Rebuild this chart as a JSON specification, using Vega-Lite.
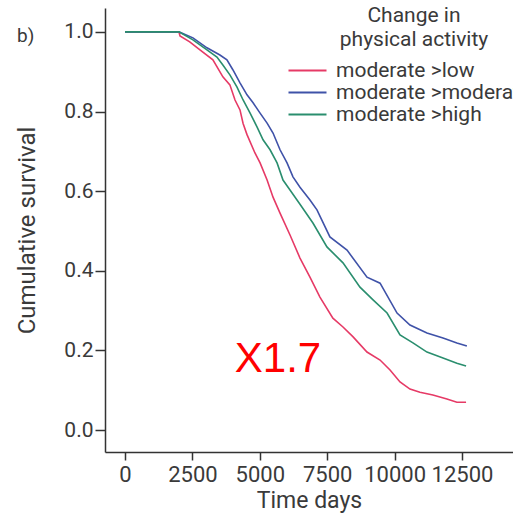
{
  "$schema": "https://vega.github.io/schema/vega-lite/v6.json",
  "autosize": {"type": "none"},
  "padding": {"left": 105, "top": 8, "right": 0, "bottom": 70},
  "width": 408,
  "height": 444,
  "background": "white",
  "config": {
    "view": {"stroke": null},
    "font": "Roboto",
    "axis": {
      "grid": false,
      "domainColor": "#333333",
      "domainWidth": 1.5,
      "tickColor": "#333333",
      "tickWidth": 1.5,
      "labelColor": "#3a3a3a",
      "titleColor": "#3a3a3a",
      "titleFontWeight": "normal",
      "labelFont": "Roboto",
      "titleFont": "Roboto"
    }
  },
  "title": {
    "text": "b)",
    "anchor": "start",
    "frame": "group",
    "dx": -88,
    "dy": 45,
    "fontSize": 19,
    "fontWeight": "normal",
    "font": "Roboto",
    "color": "#3a3a3a"
  },
  "datasets": {
    "curves": [
      {"t": 0, "s": 1, "group": "moderate >low"},
      {"t": 2000, "s": 1, "group": "moderate >low"},
      {"t": 2040, "s": 0.99, "group": "moderate >low"},
      {"t": 2400, "s": 0.975, "group": "moderate >low"},
      {"t": 2780, "s": 0.955, "group": "moderate >low"},
      {"t": 3260, "s": 0.93, "group": "moderate >low"},
      {"t": 3630, "s": 0.887, "group": "moderate >low"},
      {"t": 3890, "s": 0.867, "group": "moderate >low"},
      {"t": 4080, "s": 0.829, "group": "moderate >low"},
      {"t": 4265, "s": 0.804, "group": "moderate >low"},
      {"t": 4380, "s": 0.77, "group": "moderate >low"},
      {"t": 4525, "s": 0.742, "group": "moderate >low"},
      {"t": 4820, "s": 0.696, "group": "moderate >low"},
      {"t": 5010, "s": 0.671, "group": "moderate >low"},
      {"t": 5270, "s": 0.628, "group": "moderate >low"},
      {"t": 5490, "s": 0.585, "group": "moderate >low"},
      {"t": 5750, "s": 0.545, "group": "moderate >low"},
      {"t": 6120, "s": 0.49, "group": "moderate >low"},
      {"t": 6490, "s": 0.432, "group": "moderate >low"},
      {"t": 6860, "s": 0.384, "group": "moderate >low"},
      {"t": 7230, "s": 0.334, "group": "moderate >low"},
      {"t": 7710, "s": 0.281, "group": "moderate >low"},
      {"t": 8085, "s": 0.259, "group": "moderate >low"},
      {"t": 8460, "s": 0.234, "group": "moderate >low"},
      {"t": 8975, "s": 0.196, "group": "moderate >low"},
      {"t": 9460, "s": 0.176, "group": "moderate >low"},
      {"t": 9830, "s": 0.151, "group": "moderate >low"},
      {"t": 10200, "s": 0.121, "group": "moderate >low"},
      {"t": 10570, "s": 0.103, "group": "moderate >low"},
      {"t": 10940, "s": 0.095, "group": "moderate >low"},
      {"t": 11420, "s": 0.088, "group": "moderate >low"},
      {"t": 11940, "s": 0.078, "group": "moderate >low"},
      {"t": 12310, "s": 0.07, "group": "moderate >low"},
      {"t": 12650, "s": 0.07, "group": "moderate >low"},

      {"t": 0, "s": 1, "group": "moderate >moderate"},
      {"t": 2000, "s": 1, "group": "moderate >moderate"},
      {"t": 2520, "s": 0.985, "group": "moderate >moderate"},
      {"t": 3040, "s": 0.96, "group": "moderate >moderate"},
      {"t": 3520, "s": 0.942, "group": "moderate >moderate"},
      {"t": 3780, "s": 0.93, "group": "moderate >moderate"},
      {"t": 4000, "s": 0.905, "group": "moderate >moderate"},
      {"t": 4265, "s": 0.872, "group": "moderate >moderate"},
      {"t": 4525, "s": 0.842, "group": "moderate >moderate"},
      {"t": 4750, "s": 0.822, "group": "moderate >moderate"},
      {"t": 5010, "s": 0.796, "group": "moderate >moderate"},
      {"t": 5270, "s": 0.771, "group": "moderate >moderate"},
      {"t": 5490, "s": 0.746, "group": "moderate >moderate"},
      {"t": 5750, "s": 0.704, "group": "moderate >moderate"},
      {"t": 6010, "s": 0.671, "group": "moderate >moderate"},
      {"t": 6230, "s": 0.636, "group": "moderate >moderate"},
      {"t": 6490, "s": 0.61, "group": "moderate >moderate"},
      {"t": 6860, "s": 0.578, "group": "moderate >moderate"},
      {"t": 7120, "s": 0.553, "group": "moderate >moderate"},
      {"t": 7600, "s": 0.485, "group": "moderate >moderate"},
      {"t": 8235, "s": 0.452, "group": "moderate >moderate"},
      {"t": 8975, "s": 0.384, "group": "moderate >moderate"},
      {"t": 9460, "s": 0.369, "group": "moderate >moderate"},
      {"t": 10090, "s": 0.294, "group": "moderate >moderate"},
      {"t": 10570, "s": 0.264, "group": "moderate >moderate"},
      {"t": 11200, "s": 0.244, "group": "moderate >moderate"},
      {"t": 11795, "s": 0.231, "group": "moderate >moderate"},
      {"t": 12310, "s": 0.219, "group": "moderate >moderate"},
      {"t": 12680, "s": 0.211, "group": "moderate >moderate"},

      {"t": 0, "s": 1, "group": "moderate >high"},
      {"t": 2000, "s": 1, "group": "moderate >high"},
      {"t": 2520, "s": 0.98, "group": "moderate >high"},
      {"t": 3040, "s": 0.955, "group": "moderate >high"},
      {"t": 3410, "s": 0.937, "group": "moderate >high"},
      {"t": 3630, "s": 0.917, "group": "moderate >high"},
      {"t": 3890, "s": 0.892, "group": "moderate >high"},
      {"t": 4150, "s": 0.862, "group": "moderate >high"},
      {"t": 4380, "s": 0.829, "group": "moderate >high"},
      {"t": 4640, "s": 0.796, "group": "moderate >high"},
      {"t": 4900, "s": 0.761, "group": "moderate >high"},
      {"t": 5120, "s": 0.729, "group": "moderate >high"},
      {"t": 5380, "s": 0.704, "group": "moderate >high"},
      {"t": 5640, "s": 0.671, "group": "moderate >high"},
      {"t": 5860, "s": 0.628, "group": "moderate >high"},
      {"t": 6120, "s": 0.603, "group": "moderate >high"},
      {"t": 6490, "s": 0.567, "group": "moderate >high"},
      {"t": 6970, "s": 0.52, "group": "moderate >high"},
      {"t": 7490, "s": 0.46, "group": "moderate >high"},
      {"t": 8085, "s": 0.42, "group": "moderate >high"},
      {"t": 8715, "s": 0.359, "group": "moderate >high"},
      {"t": 9200, "s": 0.327, "group": "moderate >high"},
      {"t": 9720, "s": 0.294, "group": "moderate >high"},
      {"t": 10200, "s": 0.239, "group": "moderate >high"},
      {"t": 10680, "s": 0.219, "group": "moderate >high"},
      {"t": 11200, "s": 0.196, "group": "moderate >high"},
      {"t": 11795, "s": 0.181, "group": "moderate >high"},
      {"t": 12310, "s": 0.168, "group": "moderate >high"},
      {"t": 12650, "s": 0.161, "group": "moderate >high"}
    ],
    "note": [
      {"t": 5675, "s": 0.178, "label": "X1.7"}
    ]
  },
  "layer": [
    {
      "data": {"name": "curves"},
      "mark": {"type": "line", "strokeWidth": 1.6, "interpolate": "linear"},
      "encoding": {
        "x": {
          "field": "t", "type": "quantitative",
          "scale": {"domain": [-742, 14391], "nice": false, "zero": false},
          "axis": {
            "title": "Time days",
            "values": [0, 2500, 5000, 7500, 10000, 12500],
            "format": "d",
            "labelFontSize": 22,
            "titleFontSize": 23,
            "tickSize": 8,
            "labelPadding": 4,
            "titlePadding": 4
          }
        },
        "y": {
          "field": "s", "type": "quantitative",
          "scale": {"domain": [-0.055, 1.06], "nice": false, "zero": false},
          "axis": {
            "title": "Cumulative survival",
            "values": [0, 0.2, 0.4, 0.6, 0.8, 1.0],
            "format": ".1f",
            "labelFontSize": 21,
            "titleFontSize": 24,
            "tickSize": 10,
            "labelPadding": 2,
            "titlePadding": 24
          }
        },
        "color": {
          "field": "group", "type": "nominal",
          "sort": ["moderate >low", "moderate >moderate", "moderate >high"],
          "scale": {
            "domain": ["moderate >low", "moderate >moderate", "moderate >high"],
            "range": ["#e63a66", "#3f52a8", "#2a8e6e"]
          },
          "legend": {
            "title": ["Change in", "physical activity"],
            "orient": "none",
            "legendX": 192,
            "legendY": -3,
            "padding": 0,
            "titleAnchor": "middle",
            "titleFontSize": 21,
            "titleFontWeight": "normal",
            "titleColor": "#3a3a3a",
            "titleFont": "Roboto",
            "titleLineHeight": 24,
            "titlePadding": 10,
            "titleLimit": 400,
            "labelFontSize": 21,
            "labelColor": "#3a3a3a",
            "labelFont": "Roboto",
            "labelLimit": 400,
            "labelOffset": 18,
            "symbolType": "M-2,0H2",
            "symbolSize": 361,
            "symbolStrokeWidth": 2,
            "rowPadding": 0
          }
        }
      }
    },
    {
      "data": {"name": "note"},
      "mark": {"type": "text", "color": "#ff0000", "fontSize": 42, "font": "Liberation Sans", "align": "center", "baseline": "middle"},
      "encoding": {
        "x": {"field": "t", "type": "quantitative"},
        "y": {"field": "s", "type": "quantitative"},
        "text": {"field": "label"}
      }
    }
  ]
}
